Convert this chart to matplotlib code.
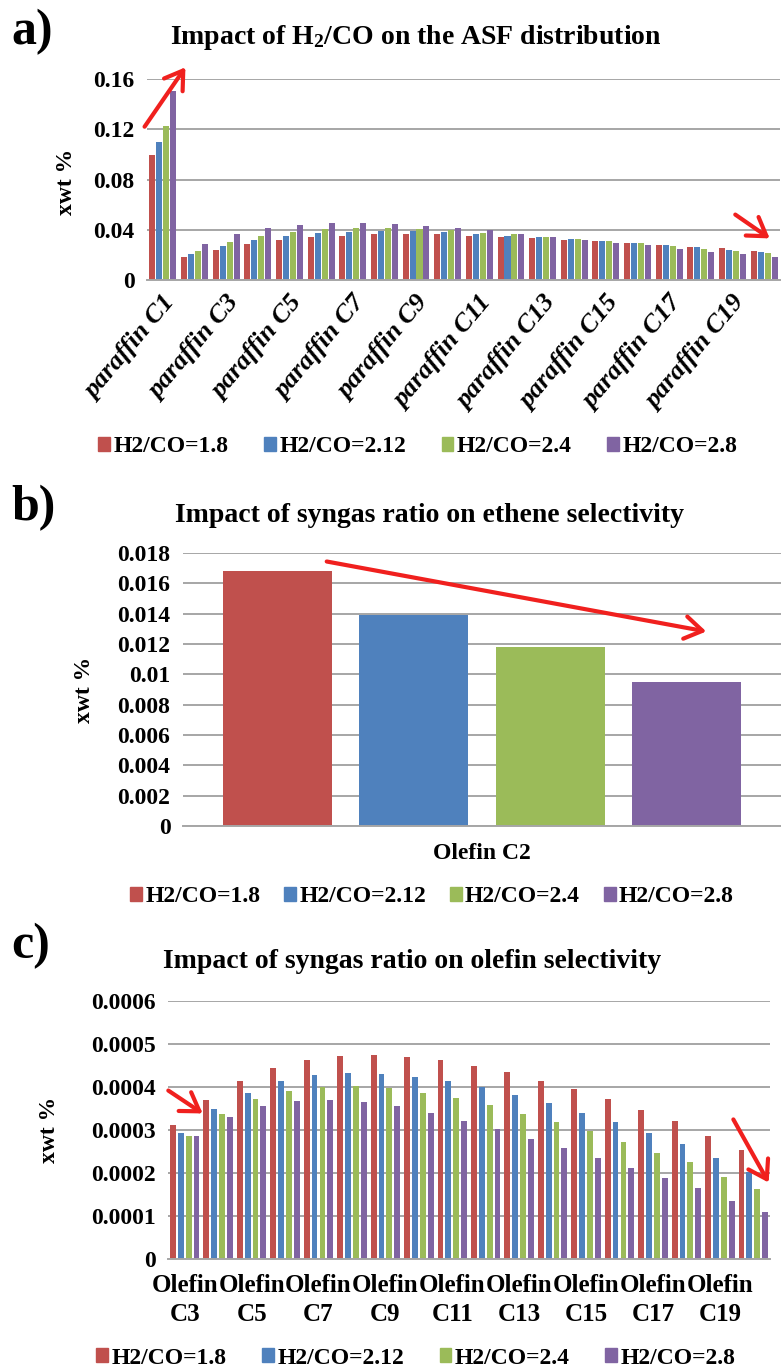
import numpy as np
import matplotlib
matplotlib.use("Agg")
import matplotlib.pyplot as plt
from matplotlib.patches import FancyArrowPatch
from matplotlib.ticker import FuncFormatter, MultipleLocator

plt.rcParams["font.family"] = ["Liberation Serif", "DejaVu Serif"]
plt.rcParams["font.weight"] = "bold"
plt.rcParams["axes.labelweight"] = "bold"
plt.rcParams["mathtext.default"] = "regular"

W, H = 781, 1371

# ---- data ----
series_names = ["H2/CO=1.8", "H2/CO=2.12", "H2/CO=2.4", "H2/CO=2.8"]
series_colors = ["#C0504D", "#4F81BD", "#9BBB59", "#8064A2"]

paraffin_labels = ["paraffin C1", "paraffin C2", "paraffin C3", "paraffin C4",
                   "paraffin C5", "paraffin C6", "paraffin C7", "paraffin C8",
                   "paraffin C9", "paraffin C10", "paraffin C11", "paraffin C12",
                   "paraffin C13", "paraffin C14", "paraffin C15", "paraffin C16",
                   "paraffin C17", "paraffin C18", "paraffin C19", "paraffin C20"]
paraffin_18 = [0.0993, 0.0180, 0.0241, 0.0287, 0.0321, 0.0345, 0.0353, 0.0364, 0.0364, 0.0364,
               0.0352, 0.0341, 0.0336, 0.0320, 0.0309, 0.0291, 0.0275, 0.0259, 0.0251, 0.0233]
paraffin_212 = [0.1097, 0.0209, 0.0268, 0.0319, 0.0353, 0.0372, 0.0380, 0.0388, 0.0388, 0.0380,
                0.0370, 0.0352, 0.0344, 0.0328, 0.0309, 0.0291, 0.0275, 0.0259, 0.0241, 0.0225]
paraffin_24 = [0.1228, 0.0231, 0.0303, 0.0353, 0.0380, 0.0404, 0.0415, 0.0415, 0.0404, 0.0396,
               0.0376, 0.0363, 0.0344, 0.0328, 0.0309, 0.0291, 0.0267, 0.0249, 0.0233, 0.0214]
paraffin_28 = [0.1505, 0.0284, 0.0364, 0.0415, 0.0441, 0.0457, 0.0457, 0.0449, 0.0433, 0.0410,
               0.0400, 0.0370, 0.0344, 0.0320, 0.0291, 0.0275, 0.0249, 0.0225, 0.0206, 0.0187]

ethene_label = "Olefin C2"
ethene_values = [0.01679, 0.01394, 0.01181, 0.00950]

olefin_labels = ["Olefin\nC3", "Olefin\nC4", "Olefin\nC5", "Olefin\nC6", "Olefin\nC7",
                 "Olefin\nC8", "Olefin\nC9", "Olefin\nC10", "Olefin\nC11", "Olefin\nC12",
                 "Olefin\nC13", "Olefin\nC14", "Olefin\nC15", "Olefin\nC16", "Olefin\nC17",
                 "Olefin\nC18", "Olefin\nC19", "Olefin\nC20"]
olefin_18 = [0.000311, 0.000369, 0.000413, 0.000444, 0.000462, 0.000473, 0.000475, 0.000470, 0.000463,
             0.000449, 0.000434, 0.000415, 0.000396, 0.000371, 0.000346, 0.000321, 0.000287, 0.000253]
olefin_212 = [0.000294, 0.000350, 0.000386, 0.000413, 0.000427, 0.000432, 0.000430, 0.000424, 0.000413,
              0.000399, 0.000381, 0.000362, 0.000340, 0.000319, 0.000292, 0.000268, 0.000234, 0.000202]
olefin_24 = [0.000287, 0.000337, 0.000371, 0.000390, 0.000399, 0.000403, 0.000398, 0.000386, 0.000374,
             0.000357, 0.000338, 0.000319, 0.000298, 0.000273, 0.000246, 0.000225, 0.000191, 0.000162]
olefin_28 = [0.000287, 0.000330, 0.000355, 0.000367, 0.000370, 0.000364, 0.000355, 0.000340, 0.000321,
             0.000302, 0.000280, 0.000258, 0.000236, 0.000212, 0.000188, 0.000166, 0.000135, 0.000109]

GRID = "#A6A6A6"


def frac(x, y):
    return (x / W, 1 - y / H)


def axes_box(left, top, right, bottom):
    return [left / W, 1 - bottom / H, (right - left) / W, (bottom - top) / H]


def style_axes(ax, step, top):
    ax.set_ylim(0, top)
    ax.yaxis.set_major_locator(MultipleLocator(step))
    ax.yaxis.set_major_formatter(FuncFormatter(lambda v, p: f"{v:g}"))
    ax.grid(axis="y", color=GRID, linewidth=1.4)
    ax.set_axisbelow(True)
    for s in ("top", "right", "left"):
        ax.spines[s].set_visible(False)
    ax.spines["bottom"].set_color(GRID)
    ax.spines["bottom"].set_linewidth(1.4)
    ax.tick_params(length=0, labelsize=17)
    ax.tick_params(axis="y", pad=9)


def add_legend(ax, cy, cx, spacing=1.5):
    handles = [plt.Rectangle((0, 0), 1, 1, color=c) for c in series_colors]
    ax.legend(handles, series_names, loc="center", bbox_to_anchor=frac(cx, cy),
              bbox_transform=fig.transFigure, ncol=4, frameon=False, fontsize=17,
              handlelength=0.5, handleheight=0.5, handletextpad=0.15,
              columnspacing=spacing)


def red_arrow(x0, y0, x1, y1):
    fig.add_artist(FancyArrowPatch(frac(x0, y0), frac(x1, y1), transform=fig.transFigure,
                                   arrowstyle="->,head_length=0.7,head_width=0.45",
                                   mutation_scale=18, color="#F0201E", linewidth=3))


fig = plt.figure(figsize=(W / 100, H / 100), dpi=100)

# ----- panel a -----
ax_a = fig.add_axes(axes_box(147, 79, 780, 280))
x_a = np.arange(len(paraffin_labels))
for i, vals in enumerate([paraffin_18, paraffin_212, paraffin_24, paraffin_28]):
    ax_a.bar(x_a + (i - 1.5) * 0.22, vals, width=0.19, color=series_colors[i])
ax_a.set_xlim(-0.5, len(paraffin_labels) - 0.5)
style_axes(ax_a, 0.04, 0.16)
ax_a.set_xticks(x_a[::2])
ax_a.set_xticklabels(paraffin_labels[::2], rotation=50, ha="right",
                     rotation_mode="anchor", fontstyle="italic", fontsize=19)
ax_a.tick_params(axis="x", pad=8)
ax_a.set_ylabel("xwt %", fontsize=17)
ax_a.yaxis.set_label_coords(-0.11, 0.49)
add_legend(ax_a, 447, 418)
fig.text(*frac(11, 32), "a)", fontsize=36, va="center", ha="left")
fig.text(*frac(416, 37), "Impact of H$_\\mathregular{2}$/CO on the ASF distribution",
         fontsize=20, ha="center", va="center")

# ----- panel b -----
ax_b = fig.add_axes(axes_box(183, 553, 781, 826))
for i, v in enumerate(ethene_values):
    ax_b.bar((i - 1.5) * 0.228, v, width=0.182, color=series_colors[i])
ax_b.set_xlim(-0.5, 0.5)
style_axes(ax_b, 0.002, 0.018)
ax_b.set_xticks([0])
ax_b.set_xticklabels([ethene_label])
ax_b.tick_params(axis="x", pad=12)
ax_b.set_ylabel("xwt %", fontsize=17)
ax_b.yaxis.set_label_coords(-0.147, 0.5)
add_legend(ax_b, 897, 432, spacing=1.0)
fig.text(*frac(11, 508), "b)", fontsize=36, va="center", ha="left")
fig.text(*frac(430, 515), "Impact of syngas ratio on ethene selectivity",
         fontsize=20, ha="center", va="center")

# ----- panel c -----
ax_c = fig.add_axes(axes_box(168, 1001, 770, 1259))
x_c = np.arange(len(olefin_labels))
for i, vals in enumerate([olefin_18, olefin_212, olefin_24, olefin_28]):
    ax_c.bar(x_c + (i - 1.5) * 0.235, vals, width=0.175, color=series_colors[i])
ax_c.set_xlim(-0.5, len(olefin_labels) - 0.5)
style_axes(ax_c, 0.0001, 0.0006)
ax_c.set_xticks(x_c[::2])
ax_c.set_xticklabels(olefin_labels[::2], linespacing=1.3, fontsize=18)
ax_c.tick_params(axis="x", pad=11)
ax_c.set_ylabel("xwt %", fontsize=17)
ax_c.yaxis.set_label_coords(-0.18, 0.5)
add_legend(ax_c, 1358, 416)
fig.text(*frac(11, 946), "c)", fontsize=36, va="center", ha="left")
fig.text(*frac(412, 961), "Impact of syngas ratio on olefin selectivity",
         fontsize=20, ha="center", va="center")

# ----- trend arrows -----
red_arrow(143, 129, 187, 65)
red_arrow(733, 213, 772, 240)
red_arrow(324, 561, 709, 632)
red_arrow(166, 1089, 205, 1115)
red_arrow(732, 1117, 770, 1185)

fig.savefig("out.png", dpi=100)
